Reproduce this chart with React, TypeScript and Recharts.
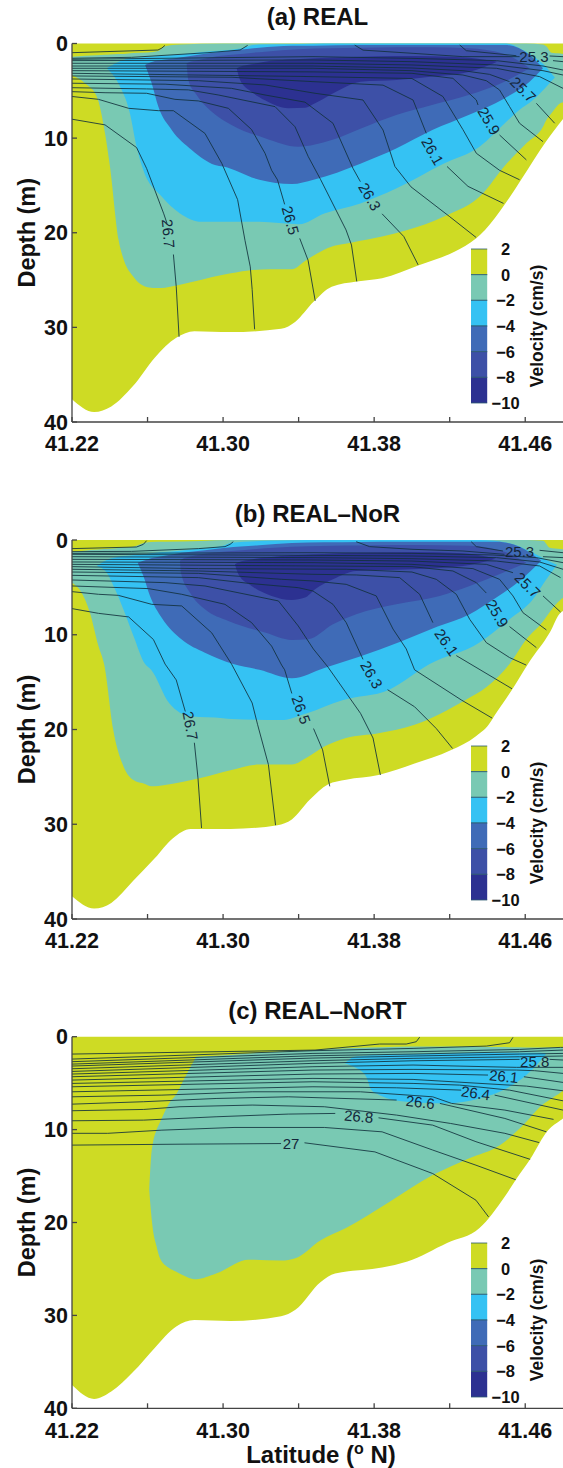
import { Area, ComposedChart, Line, ReferenceDot, XAxis, YAxis } from "recharts";

const xTicks = [41.22, 41.26, 41.3, 41.34, 41.38, 41.42, 41.46];
const xLabelled = [41.22, 41.3, 41.38, 41.46];
const depthTicks = [0, 10, 20, 30, 40];
const cbLevels = [2, 0, -2, -4, -6, -8, -10];
const cbColors = ["#CEDB24", "#79C9B3", "#35C2F3", "#3F6BB7", "#3D50A7", "#2C3191"];

type Row = [number, number, number];
type Pt = [number, number | null];
type Lab = [string, number, number, number];

// panel (a): [lat, depth] of the bottom, [lat, top, bottom] of each velocity band
const aFloor: Pt[] = [
  [41.22, 37.6], [41.2317, 38.95], [41.2408, 38.35], [41.2523, 36.2], [41.2638, 33.2], [41.2752, 31.1],
  [41.2848, 30.4], [41.3039, 30.5], [41.3307, 30.15], [41.3383, 29.4], [41.3479, 27.3], [41.3575, 25.7],
  [41.3708, 25.15], [41.3842, 24.8], [41.4033, 23.46], [41.4225, 22], [41.4339, 20.6], [41.4387, 19.7],
  [41.4492, 17], [41.4578, 14.4], [41.4645, 12.3], [41.4712, 10.3], [41.48, 7.97],
];
const aTeal: Row[] = [
  [41.22, 1.4, 3.33], [41.2269, 1.3, 4.2], [41.2331, 1.25, 5.6], [41.2375, 1.2, 9.5], [41.2401, 1.15, 13],
  [41.2447, 1.1, 20.8], [41.2475, 1.1, 22.9], [41.2523, 1, 24.6], [41.26, 0.95, 25.75], [41.2657, 0.8, 25.85],
  [41.2693, 0.3, 25.8], [41.2772, 0.1, 25.5], [41.3, 0, 24.45], [41.3135, 0, 24], [41.325, 0, 23.85],
  [41.3364, 0, 23.85], [41.344, 0, 22.9], [41.3555, 0, 21.6], [41.3689, 0, 21], [41.3842, 0, 20.4],
  [41.3976, 0, 19.7], [41.4167, 0, 18.3], [41.4378, 0, 15.8], [41.4482, 0, 13.15], [41.4606, 0, 10.55],
  [41.4694, 0.1, 8.8], [41.4712, 0.3, 8.08], [41.4738, 0.97, 7.4], [41.4787, 1.05, 6.3], [41.48, 1.1, 6.2],
];
const aSky: Row[] = [
  [41.2384, 2.62, 2.62], [41.2445, 1.95, 4.2], [41.2507, 1.55, 7.4], [41.2542, 1.5, 10.9], [41.2578, 1.45, 13.4],
  [41.2676, 1.3, 16.2], [41.2772, 1.15, 17.96], [41.2886, 0.9, 18.84], [41.3098, 0.51, 18.84], [41.3151, 0.19, 18.84],
  [41.3192, 0.1, 18.84], [41.3402, 0.05, 19.1], [41.3536, 0, 17.96], [41.3727, 0, 16.9], [41.3919, 0, 15.3],
  [41.4167, 0, 12.7], [41.4358, 0, 10.9], [41.45, 0, 8.26], [41.457, 0.5, 7], [41.4641, 1.35, 5.97],
  [41.4712, 2.5, 4.56], [41.4757, 3.6, 3.6],
];
const aBlue3: Row[] = [
  [41.2587, 2.27, 2.27], [41.2622, 1.95, 4.2], [41.2657, 1.8, 6.67], [41.2728, 1.6, 9.14], [41.2834, 1.3, 11.25],
  [41.2957, 0.95, 12.83], [41.3001, 0.85, 13], [41.3192, 0.45, 14.4], [41.3364, 0.25, 14.86], [41.3479, 0.23, 14.4],
  [41.3727, 0.15, 12.7], [41.3919, 0.15, 11.07], [41.4108, 0.15, 9.14], [41.43, 0.15, 7.55], [41.449, 0.15, 5.8],
  [41.4623, 1.2, 4.03], [41.4694, 2.62, 2.62],
];
const aBlue4: Row[] = [
  [41.2807, 2.09, 2.09], [41.2816, 2, 3.85], [41.286, 1.8, 5.44], [41.294, 1.45, 7.2], [41.3045, 1.2, 8.6],
  [41.3222, 0.86, 10], [41.3398, 0.6, 10.9], [41.3575, 0.5, 10.2], [41.3727, 0.45, 9], [41.3917, 0.4, 7.55],
  [41.4106, 0.4, 6.5], [41.43, 0.5, 5.44], [41.449, 1.1, 4.03], [41.4623, 2.62, 2.62],
];
const aNavy: Row[] = [
  [41.3072, 2.62, 2.62], [41.309, 2.45, 3.85], [41.3151, 2.2, 5.1], [41.3222, 1.92, 6], [41.3345, 1.7, 6.85],
  [41.3434, 1.6, 6.8], [41.3487, 1.55, 6.32], [41.3632, 1.45, 4.75], [41.3727, 1.4, 4.05], [41.3919, 1.33, 3.87],
  [41.411, 1.35, 3.5], [41.4301, 1.5, 3], [41.4452, 1.92, 1.92],
];
const aContours: Pt[][] = [
  [[41.22, 8], [41.2375, 8.6], [41.2542, 11], [41.2595, 13.2], [41.2686, 18], [41.2703, 19], [41.272, null], [41.2737, 22.3], [41.2752, 25.7], [41.2767, 31]],
  [[41.22, 5.6], [41.234, 5.9], [41.25, 6.85], [41.2657, 7.1], [41.2737, 7.1], [41.2904, 9.5], [41.2993, 12.66], [41.3077, 16.5], [41.3116, 20.8], [41.3144, 23.6], [41.3154, 26], [41.3167, 30.2]],
  [[41.22, 5.09], [41.2375, 5.2], [41.2595, 5.26], [41.2745, 5.9], [41.2869, 6.07], [41.3028, 6.85], [41.3151, 9.1], [41.3222, 11.6], [41.3257, 13.4], [41.3288, 14.4], [41.3326, 17], [41.336, null], [41.3406, 20.6], [41.345, 22.9], [41.3488, 27.2]],
  [[41.22, 4.67], [41.2595, 4.8], [41.2816, 4.9], [41.2975, 5.44], [41.3275, 6.67], [41.3381, 8.8], [41.3451, 11.95], [41.3517, 14.4], [41.3651, 19.7], [41.368, 21.3], [41.3708, 25.15]],
  [[41.22, 4.2], [41.2693, 4.3], [41.3045, 4.74], [41.3222, 5.44], [41.3434, 6.2], [41.3582, 8.43], [41.3688, 13.2], [41.3727, 14.6], [41.378, null], [41.3842, 18], [41.3957, 20.4], [41.4033, 23.4]],
  [[41.22, 3.75], [41.2869, 3.93], [41.3222, 4.38], [41.3487, 5.26], [41.3741, 5.97], [41.3847, 9.14], [41.391, 13], [41.3995, 15.15], [41.42, 18.3], [41.434, 20.5]],
  [[41.22, 3.43], [41.3047, 3.57], [41.3476, 4.03], [41.3847, 4.4], [41.4006, 5.97], [41.4076, 9.49], [41.413, null], [41.4186, 13], [41.4297, 15.1], [41.4485, 16.9]],
  [[41.22, 3.15], [41.3476, 3.5], [41.4, 3.7], [41.4164, 5.6], [41.427, 9.1], [41.4341, 11.6], [41.4464, 13.4], [41.457, 14.4]],
  [[41.22, 2.87], [41.3476, 3], [41.4, 3.15], [41.4217, 3.68], [41.4341, 5.97], [41.435, 6.5], [41.44, null], [41.4464, 9.67], [41.4606, 12.3]],
  [[41.22, 2.62], [41.3476, 2.62], [41.4, 2.87], [41.427, 3.33], [41.4394, 3.93], [41.4464, 4.91], [41.4517, 6.67], [41.457, 8.43], [41.4694, 10.37]],
  [[41.22, 2.38], [41.3476, 2.38], [41.4, 2.59], [41.427, 2.87], [41.4411, 3.26], [41.4517, 4.03], [41.458, null], [41.4659, 6.32], [41.4756, 8.43]],
  [[41.22, 2.09], [41.3476, 2.09], [41.4, 2.27], [41.4447, 2.62], [41.4676, 3.5], [41.48, 4.74]],
  [[41.22, 1.81], [41.3476, 1.74], [41.4, 1.92], [41.4447, 2.27], [41.4694, 2.87], [41.48, 3.33]],
  [[41.22, 1.67], [41.3476, 1.39], [41.4, 1.57], [41.4447, 1.81], [41.4694, 2.38], [41.48, 2.8]],
  [[41.3697, 0.17], [41.3741, 0.7], [41.4006, 1.04], [41.427, 1.39], [41.457, 1.39], [41.465, null], [41.4747, 1.81], [41.48, 1.92]],
  [[41.4253, 0.16], [41.4288, 0.76], [41.4553, 1.29], [41.463, null], [41.4729, 1.32], [41.48, 1.39]],
  [[41.22, 1.56], [41.2516, 1.46], [41.292, 0.97], [41.309, 0.69], [41.313, 0.2]],
  [[41.22, 0.97], [41.2655, 0.69], [41.2676, 0.48], [41.2692, 0.2]],
];
const aLabels: Lab[] = [
  ["25.3", 41.4646, 1.39, 0], ["25.7", 41.4588, 4.9, 45], ["25.9", 41.4406, 8.2, 60], ["26.1", 41.4108, 11.4, 60],
  ["26.3", 41.3775, 16.2, 60], ["26.5", 41.3355, 18.7, 75], ["26.7", 41.2708, 20.1, 85],
];

// panel (b)
const bFloor: Pt[] = [
  [41.22, 37.6], [41.2317, 38.9], [41.2408, 38.3], [41.2523, 36], [41.2638, 33.6], [41.2733, 31.5], [41.2829, 30.5],
  [41.3039, 30.5], [41.3288, 30.1], [41.3364, 29.5], [41.346, 27.4], [41.3555, 25.8], [41.3651, 25.3], [41.3823, 24.8],
  [41.4014, 23.6], [41.4205, 22.2], [41.4339, 20.7], [41.4406, 19.5], [41.4435, 18.6], [41.453, 15.8], [41.4617, 13],
  [41.473, 9.77], [41.4787, 7.67], [41.48, 7.5],
];
const bTeal: Row[] = [
  [41.22, 1.23, 4.5], [41.2251, 1.15, 5.56], [41.2295, 1.05, 7.67], [41.234, 1, 11.2], [41.2371, 0.95, 13.2],
  [41.2418, 0.9, 20], [41.2475, 0.8, 24], [41.2523, 0.7, 25.3], [41.2587, 0.28, 25.75], [41.2619, 0.2, 26],
  [41.2693, 0.18, 25.85], [41.2886, 0.1, 25.1], [41.3039, 0, 24.3], [41.3192, 0, 23.7], [41.3364, 0, 23.7],
  [41.344, 0, 23], [41.3536, 0, 21.8], [41.3651, 0, 20.9], [41.3823, 0, 20.4], [41.4014, 0, 19.5], [41.4282, 0, 16.9],
  [41.4397, 0, 15.5], [41.4517, 0, 13.1], [41.4605, 0, 10.5], [41.4694, 0.07, 8.6], [41.473, 0.81, 7.6],
  [41.4787, 0.95, 6.3], [41.48, 0.98, 6.1],
];
const bSky: Row[] = [
  [41.2331, 2.74, 2.74], [41.2384, 2.1, 3.45], [41.2428, 1.85, 5.2], [41.2472, 1.7, 7.3], [41.2525, 1.6, 10.1],
  [41.2587, 1.5, 13.1], [41.2619, 1.4, 13.7], [41.2714, 1.25, 17.2], [41.2829, 1, 18.6], [41.3, 0.6, 18.8],
  [41.3045, 0.28, 18.9], [41.3307, 0.05, 19], [41.344, 0, 18.3], [41.3632, 0, 16.9], [41.388, 0, 15.8],
  [41.4094, 0, 13.1], [41.4358, 0, 10.83], [41.4517, 0.35, 8.37], [41.4641, 1.35, 6.26], [41.4712, 2.1, 4.15],
  [41.4768, 2.6, 2.6],
];
const bBlue3: Row[] = [
  [41.2548, 2.39, 2.39], [41.2578, 2.2, 3.8], [41.2613, 1.95, 5.9], [41.2675, 1.72, 8.2], [41.2781, 1.35, 10.5],
  [41.2904, 1.08, 11.9], [41.3054, 0.75, 13.1], [41.3192, 0.55, 13.7], [41.3364, 0.32, 14.6], [41.3536, 0.25, 13.5],
  [41.3725, 0.2, 12.3], [41.3935, 0.18, 10.76], [41.4136, 0.18, 9.14], [41.4306, 0.18, 7.84], [41.4447, 0.18, 6.08],
  [41.457, 0.7, 4.32], [41.4685, 2.2, 2.2],
];
const bBlue4: Row[] = [
  [41.2772, 2.2, 2.2], [41.2777, 2.1, 3.45], [41.2825, 1.75, 5.56], [41.2904, 1.45, 7.31], [41.3028, 1.2, 8.54],
  [41.3222, 0.88, 9.77], [41.3363, 0.72, 10.55], [41.3451, 0.65, 10.48], [41.3582, 0.6, 8.9], [41.3705, 0.58, 7.84],
  [41.3917, 0.54, 6.79], [41.4147, 0.55, 5.9], [41.4306, 0.6, 4.85], [41.4482, 1.2, 3.45], [41.4606, 2.39, 2.39],
];
const bNavy: Row[] = [
  [41.3063, 2.57, 2.57], [41.3081, 2.35, 3.62], [41.3151, 2.05, 4.85], [41.3257, 1.8, 5.9], [41.3363, 1.62, 6.33],
  [41.3434, 1.55, 6.08], [41.3487, 1.51, 5.2], [41.3582, 1.42, 4.15], [41.3705, 1.35, 3.27], [41.4, 1.27, 3.09],
  [41.427, 1.41, 2.74], [41.4443, 1.97, 1.97],
];
const bContours: Pt[][] = [
  [[41.22, 7.24], [41.234, 7.74], [41.25, 8.12], [41.2631, 10.5], [41.2693, 13.1], [41.2752, 14.77], [41.28, 18.1], [41.282, null], [41.2848, 21.4], [41.2867, 25.1], [41.2886, 30.4]],
  [[41.22, 5.45], [41.234, 5.73], [41.2445, 5.84], [41.2622, 6.79], [41.2781, 6.96], [41.294, 9.8], [41.3045, 13.1], [41.3154, 17.2], [41.3183, 19.5], [41.324, 23.7], [41.3278, 30.1]],
  [[41.22, 4.85], [41.2604, 5.13], [41.2781, 5.73], [41.301, 6.79], [41.3151, 8.72], [41.3257, 11.2], [41.331, 13.2], [41.3326, 13.7], [41.3364, 16.2], [41.342, null], [41.3479, 19.9], [41.3527, 22.15], [41.3565, 26]],
  [[41.22, 4.22], [41.2693, 4.5], [41.2904, 4.85], [41.3293, 6.43], [41.3398, 9.07], [41.3478, 11.5], [41.3555, 13.4], [41.3728, 18.3], [41.3794, 20.9], [41.3833, 24.8]],
  [[41.22, 3.73], [41.2869, 3.97], [41.3133, 4.57], [41.3398, 5.03], [41.3476, 5.38], [41.3582, 6.79], [41.3652, 8.72], [41.3741, 12.6], [41.38, null], [41.3871, 15.8], [41.4014, 17.6], [41.4129, 19.9], [41.4215, 22]],
  [[41.22, 3.38], [41.2869, 3.52], [41.331, 4.15], [41.3476, 4.32], [41.3652, 4.68], [41.3811, 5.9], [41.39, 9.4], [41.397, 11.5], [41.4014, 13.7], [41.4263, 16.9], [41.4425, 18.8]],
  [[41.22, 3.09], [41.2869, 3.27], [41.3476, 3.62], [41.3705, 3.69], [41.3935, 3.97], [41.4041, 5.73], [41.4111, 8.72], [41.417, null], [41.4235, 12.2], [41.453, 15.7]],
  [[41.22, 2.81], [41.2869, 3.02], [41.3652, 3.09], [41.4, 3.38], [41.4129, 4.15], [41.4235, 5.73], [41.4306, 8.37], [41.4394, 10.83], [41.4517, 12.41], [41.4605, 13.2]],
  [[41.22, 2.57], [41.3476, 2.74], [41.4, 2.81], [41.4217, 3.27], [41.4341, 4.5], [41.4394, 5.6], [41.445, null], [41.4517, 9.14], [41.4659, 11.36]],
  [[41.22, 2.32], [41.3476, 2.39], [41.4, 2.57], [41.4323, 3.02], [41.4464, 4.15], [41.4535, 5.9], [41.4588, 7.67], [41.4712, 9.49]],
  [[41.22, 2.04], [41.3476, 2.11], [41.4, 2.22], [41.4394, 2.57], [41.4535, 3.45], [41.461, null], [41.4694, 5.9], [41.4787, 7.6]],
  [[41.22, 1.76], [41.3476, 1.86], [41.4, 1.97], [41.4447, 2.22], [41.4676, 2.74], [41.4787, 3.97]],
  [[41.22, 1.51], [41.3476, 1.62], [41.4, 1.69], [41.4447, 1.86], [41.4676, 2.32], [41.48, 3.09]],
  [[41.22, 1.41], [41.3476, 1.34], [41.4, 1.41], [41.4429, 1.58], [41.4659, 1.86], [41.48, 2.39]],
  [[41.3705, 0.18], [41.3776, 0.7], [41.4, 0.98], [41.427, 1.16], [41.449, 1.51], [41.458, null], [41.4694, 1.76], [41.48, 1.86]],
  [[41.4314, 0.18], [41.4341, 0.7], [41.4482, 1.16], [41.458, null], [41.4676, 1.09], [41.48, 1.34]],
  [[41.22, 1.23], [41.2516, 1.2], [41.2869, 0.91], [41.301, 0.7], [41.3037, 0.46], [41.3054, 0.18]],
  [[41.22, 0.91], [41.2542, 0.74], [41.2578, 0.46], [41.2595, 0.07]],
];
const bLabels: Lab[] = [
  ["25.3", 41.457, 1.23, 0], ["25.7", 41.4611, 4.78, 45], ["25.9", 41.445, 7.77, 60], ["26.1", 41.4182, 10.83, 55],
  ["26.3", 41.3785, 14.24, 60], ["26.5", 41.3412, 17.93, 70], ["26.7", 41.2825, 19.6, 80],
];

// panel (c)
const cFloor: Pt[] = [
  [41.22, 37.5], [41.2317, 39], [41.2408, 38.2], [41.2523, 36.1], [41.2638, 33.5], [41.2752, 31.2], [41.2848, 30.5],
  [41.3039, 30.6], [41.3307, 30.1], [41.3383, 29.4], [41.3517, 26.4], [41.3593, 25.5], [41.3842, 24.85], [41.3976, 24.2],
  [41.4186, 22.2], [41.4358, 20.6], [41.4492, 17.2], [41.455, 15.4], [41.4626, 13.2], [41.4722, 10.05], [41.4787, 9], [41.48, 8.8],
];
const cTeal: Row[] = [
  [41.2609, 16.5, 16.5], [41.2619, 12.9, 19], [41.2628, 11.5, 20.7], [41.2647, 10.06, 22.5], [41.2666, 9.2, 23.85],
  [41.2714, 7.18, 24.9], [41.2752, 6.2, 25.3], [41.2791, 4.67, 25.7], [41.2848, 2.5, 26.1], [41.2858, 2.16, 26.1],
  [41.2963, 2.05, 25.5], [41.3135, 1.8, 24], [41.3307, 1.6, 24.1], [41.3383, 1.55, 23.85], [41.3517, 1.4, 21.9],
  [41.3651, 1.25, 20.6], [41.388, 1.1, 17.8], [41.411, 1.05, 14.9], [41.4301, 1.08, 13.1], [41.4464, 1.12, 11.7],
  [41.4606, 1.15, 9.16], [41.4676, 1.15, 7.6], [41.4787, 1.15, 6], [41.48, 1.15, 5.8],
];
const cSky: Row[] = [
  [41.3644, 2.87, 2.87], [41.3697, 2.16, 3.3], [41.3758, 2.05, 4.31], [41.3785, 2, 5.75], [41.3829, 2, 6.29],
  [41.397, 1.9, 7], [41.4182, 1.8, 7.18], [41.4358, 1.72, 6.65], [41.45, 1.72, 5.57], [41.4606, 1.72, 4.13],
  [41.4676, 1.72, 2.69], [41.4712, 1.8, 1.8],
];
const cContours: Pt[][] = [
  [[41.22, 1.87], [41.3487, 1.44], [41.3829, 0.79], [41.397, 0.79], [41.4023, 0.54], [41.4041, 0.05]],
  [[41.22, 2.41], [41.3476, 1.51], [41.4006, 1.26], [41.4394, 1.01], [41.4517, 0.65], [41.4535, 0.07]],
  [[41.22, 2.69], [41.3476, 1.8], [41.4006, 1.62], [41.457, 1.37], [41.4787, 1.15], [41.48, 1.15]],
  [[41.22, 2.95], [41.3476, 2.05], [41.4006, 1.87], [41.457, 1.62], [41.48, 1.44]],
  [[41.22, 3.16], [41.3476, 2.3], [41.4006, 2.08], [41.457, 1.87], [41.48, 1.8]],
  [[41.22, 3.45], [41.3476, 2.59], [41.4006, 2.33], [41.457, 2.16], [41.48, 2.08]],
  [[41.22, 3.74], [41.3476, 2.87], [41.4006, 2.59], [41.457, 2.44], [41.465, null], [41.4729, 2.44], [41.48, 2.51]],
  [[41.22, 4.02], [41.3476, 3.23], [41.4006, 3.05], [41.4553, 3.3], [41.48, 3.3]],
  [[41.22, 4.31], [41.3476, 3.59], [41.4006, 3.52], [41.4553, 3.59], [41.465, 3.66], [41.48, 3.95]],
  [[41.22, 4.67], [41.3476, 4.02], [41.4006, 3.95], [41.4403, 4.13], [41.4495, null], [41.4593, 4.31], [41.48, 4.92]],
  [[41.22, 5.03], [41.3476, 4.49], [41.4006, 4.6], [41.4606, 5.32], [41.48, 5.82]],
  [[41.22, 5.39], [41.3476, 4.85], [41.4006, 5.03], [41.4253, 5.21], [41.4517, 5.75], [41.48, 6.9]],
  [[41.22, 5.93], [41.3476, 5.39], [41.3917, 5.5], [41.4261, 5.75], [41.435, null], [41.4438, 6.29], [41.48, 7.9]],
  [[41.22, 6.47], [41.2676, 6.29], [41.3154, 5.93], [41.3727, 5.93], [41.411, 6.47], [41.421, 7.18], [41.4492, 7.9], [41.475, 8.9]],
  [[41.22, 7.26], [41.258, 7], [41.2963, 6.65], [41.3345, 6.47], [41.3919, 6.82], [41.403, null], [41.4148, 7.18], [41.4492, 8.8], [41.4712, 10.24]],
  [[41.22, 7.97], [41.258, 7.83], [41.2772, 7.54], [41.3154, 7.36], [41.3536, 7.54], [41.3919, 8.44], [41.4205, 9.34], [41.4492, 10.4], [41.4674, 11.4]],
  [[41.22, 9.05], [41.258, 8.98], [41.2963, 8.62], [41.3345, 8.33], [41.3594, 8.26], [41.372, null], [41.3823, 8.73], [41.411, 9.52], [41.4339, 11.3], [41.4626, 13.2]],
  [[41.22, 10.4], [41.2389, 10.4], [41.2676, 10.06], [41.3058, 9.77], [41.3536, 9.77], [41.3842, 10.24], [41.411, 12.2], [41.4339, 13.83], [41.455, 15.4]],
  [[41.22, 11.67], [41.2772, 11.57], [41.3307, 11.5], [41.337, null], [41.3431, 11.42], [41.3804, 12.4], [41.411, 14.73], [41.4339, 17.6], [41.4406, 19.4]],
];
const cLabels: Lab[] = [
  ["25.8", 41.465, 2.69, 0], ["26.1", 41.4486, 4.31, 6], ["26.4", 41.4337, 6.1, 8], ["26.6", 41.4044, 7.08, 7],
  ["26.8", 41.3718, 8.62, 5], ["27", 41.336, 11.57, 0],
];

const FONT = "'Liberation Sans', Arial, sans-serif";
const tickStyle = { fontFamily: FONT, fontWeight: 700, fontSize: 21.5, fill: "#111" };
const AXIS = "#444";

const toBand = (rows: Row[]) => rows.map(([lat, top, bottom]) => ({ lat, range: [top, bottom] }));
const toLine = (pts: Pt[]) => pts.map(([lat, depth]) => ({ lat, depth }));

function ContourLabel({ cx, cy, text, angle }: any) {
  return (
    <text
      x={cx}
      y={cy}
      dy={5}
      textAnchor="middle"
      transform={`rotate(${angle} ${cx} ${cy})`}
      style={{ fontFamily: FONT, fontSize: 15, fill: "#14263a" }}
    >
      {text}
    </text>
  );
}

function Colorbar({ top, height }: { top: number; height: number }) {
  const bands = cbColors.map((color, i) => ({
    color,
    rows: [
      { x: 0, range: [cbLevels[i + 1], cbLevels[i]] },
      { x: 1, range: [cbLevels[i + 1], cbLevels[i]] },
    ],
  }));
  return (
    <div style={{ position: "absolute", left: 471.4, top: top - 12 }}>
      <ComposedChart width={91.6} height={height + 24} margin={{ top: 12, right: 0, bottom: 12, left: 0 }}>
        {bands.map((b, i) => (
          <Area
            key={i}
            data={b.rows}
            dataKey="range"
            type="linear"
            fill={b.color}
            fillOpacity={1}
            stroke="#2c5c70"
            strokeWidth={0.8}
            dot={false}
            activeDot={false}
            isAnimationActive={false}
          />
        ))}
        <XAxis dataKey="x" type="number" domain={[0, 1]} hide />
        <YAxis
          orientation="right"
          width={75.4}
          type="number"
          domain={[-10, 2]}
          ticks={cbLevels}
          interval={0}
          axisLine={false}
          tickLine={false}
          tick={({ y, payload }: any) => (
            <text x={34.6} y={y} dy={6} textAnchor="middle" style={{ fontFamily: FONT, fontWeight: 700, fontSize: 16.5, fill: "#111" }}>
              {String(payload.value).replace("-", "\u2212")}
            </text>
          )}
        />
        <text
          x={65.6}
          y={height / 2 + 12}
          textAnchor="middle"
          transform={`rotate(-90 65.6 ${height / 2 + 12})`}
          dy={6}
          style={{ fontFamily: FONT, fontWeight: 700, fontSize: 17.5, fill: "#111" }}
        >
          Velocity (cm/s)
        </text>
      </ComposedChart>
    </div>
  );
}

function Panel({ chartTop, plotTop, plotHeight, title, titleY, floor, bands, contours, labels, barTop, xTitle }: any) {
  const marginTop = plotTop - chartTop;
  const chartHeight = marginTop + plotHeight + (xTitle ? 60 : 40);
  return (
    <>
      <div style={{ position: "absolute", left: 0, top: chartTop }}>
        <ComposedChart
          width={563}
          height={chartHeight}
          margin={{ top: marginTop, right: 0, bottom: 0, left: 0 }}
        >
          <Area
            data={floor.map(([lat, depth]: Pt) => ({ lat, range: [0, depth] }))}
            dataKey="range"
            type="monotone"
            fill={cbColors[0]}
            fillOpacity={1}
            stroke="none"
            dot={false}
            activeDot={false}
            isAnimationActive={false}
          />
          {bands.map((rows: Row[], i: number) => (
            <Area
              key={i}
              data={toBand(rows)}
              dataKey="range"
              type="monotone"
              fill={cbColors[i + 1]}
              fillOpacity={1}
              stroke="none"
              dot={false}
              activeDot={false}
              isAnimationActive={false}
            />
          ))}
          {contours.map((pts: Pt[], i: number) => (
            <Line
              key={i}
              data={toLine(pts)}
              dataKey="depth"
              type="linear"
              stroke="#12303c"
              strokeWidth={1}
              strokeOpacity={0.85}
              dot={false}
              activeDot={false}
              connectNulls={false}
              isAnimationActive={false}
            />
          ))}
          {labels.map(([text, lat, depth, angle]: Lab) => (
            <ReferenceDot
              key={text}
              x={lat}
              y={depth}
              shape={(p: any) => <ContourLabel cx={p.cx} cy={p.cy} text={text} angle={angle} />}
            />
          ))}
          <XAxis
            dataKey="lat"
            type="number"
            domain={[41.22, 41.48]}
            ticks={xTicks}
            interval={0}
            height={xTitle ? 60 : 40}
            tickSize={-5}
            tickMargin={19}
            stroke={AXIS}
            strokeWidth={1.3}
            tick={tickStyle}
            tickFormatter={(v: number) => (xLabelled.includes(v) ? v.toFixed(2) : "")}
          />
          <XAxis
            xAxisId="top"
            orientation="top"
            dataKey="lat"
            type="number"
            domain={[41.22, 41.48]}
            ticks={xTicks}
            interval={0}
            height={0}
            tickSize={-5}
            stroke={AXIS}
            strokeWidth={1.3}
            tickFormatter={() => ""}
          />
          <YAxis
            type="number"
            reversed
            domain={[0, 40]}
            ticks={depthTicks}
            interval={0}
            width={72}
            tickSize={-5}
            tickMargin={9}
            stroke={AXIS}
            strokeWidth={1.3}
            tick={tickStyle}
          />
          <YAxis
            yAxisId="right"
            orientation="right"
            type="number"
            reversed
            domain={[0, 40]}
            ticks={depthTicks}
            interval={0}
            width={0}
            tickSize={-5}
            axisLine={false}
            stroke={AXIS}
            tickFormatter={() => ""}
          />
          <text
            x={317.5}
            y={titleY - chartTop}
            dy={8}
            textAnchor="middle"
            style={{ fontFamily: FONT, fontWeight: 700, fontSize: 24, fill: "#111" }}
          >
            {title}
          </text>
          <text
            x={35}
            y={marginTop + plotHeight / 2}
            textAnchor="middle"
            transform={`rotate(-90 35 ${marginTop + plotHeight / 2})`}
            style={{ fontFamily: FONT, fontWeight: 700, fontSize: 23.5, fill: "#111" }}
          >
            Depth (m)
          </text>
          {xTitle && (
            <text
              x={321}
              y={marginTop + plotHeight + 55}
              textAnchor="middle"
              style={{ fontFamily: FONT, fontWeight: 700, fontSize: 24, fill: "#111" }}
            >
              <tspan>Latitude (</tspan>
              <tspan dy={-9} fontSize={16}>o</tspan>
              <tspan dy={9}> N)</tspan>
            </text>
          )}
        </ComposedChart>
      </div>
      <Colorbar top={barTop} height={154} />
    </>
  );
}

export default function App() {
  return (
    <div style={{ position: "absolute", left: 0, top: 0, width: 563, height: 1468, background: "#fff", overflow: "hidden" }}>
      <Panel
        chartTop={0}
        plotTop={43.5}
        plotHeight={378.5}
        title="(a) REAL"
        titleY={17}
        floor={aFloor}
        bands={[aTeal, aSky, aBlue3, aBlue4, aNavy]}
        contours={aContours}
        labels={aLabels}
        barTop={249.3}
      />
      <Panel
        chartTop={490}
        plotTop={540}
        plotHeight={379}
        title="(b) REAL–NoR"
        titleY={514}
        floor={bFloor}
        bands={[bTeal, bSky, bBlue3, bBlue4, bNavy]}
        contours={bContours}
        labels={bLabels}
        barTop={746}
      />
      <Panel
        chartTop={985}
        plotTop={1036.7}
        plotHeight={371.6}
        title="(c) REAL–NoRT"
        titleY={1010.7}
        floor={cFloor}
        bands={[cTeal, cSky]}
        contours={cContours}
        labels={cLabels}
        barTop={1243}
        xTitle
      />
    </div>
  );
}
